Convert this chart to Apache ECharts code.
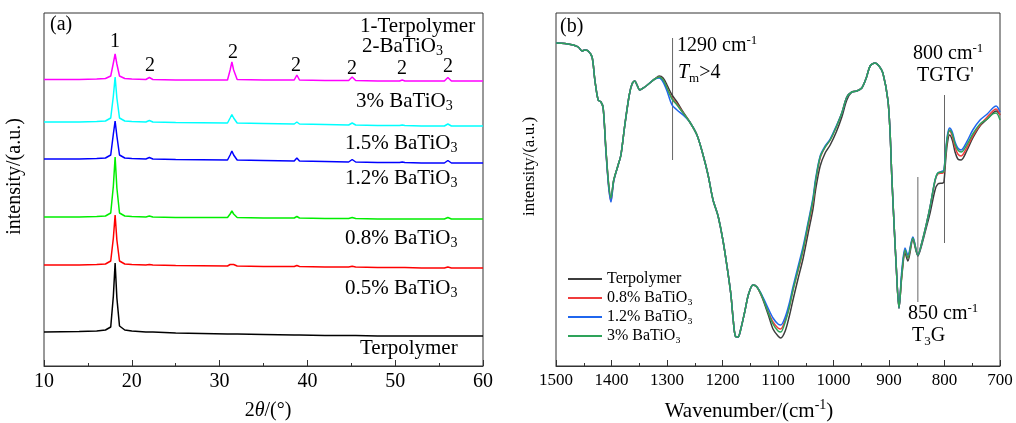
<!DOCTYPE html>
<html><head><meta charset="utf-8">
<script src="https://cdn.jsdelivr.net/npm/echarts@6/dist/echarts.min.js"></script>
<style>html,body{margin:0;padding:0;background:#fff}#c{width:1016px;height:423px}</style>
</head><body><div id="c"></div>
<script>
// ---------- Panel (a): XRD ----------
const xrdTheta = [10,14,16,17,17.6,17.9,18.1,18.3,18.6,19.2,20,21.6,22,22.4,25,30.9,31.2,31.4,31.6,32,35,38.5,38.8,39.1,42,44.7,45.1,45.5,48,50.5,50.8,51.1,53,55.6,56,56.4,60];
const xrd3 = [286.5,286.5,287,287.5,290,303,312,302,290,287.5, 287,286.5,288.5,286.5,286, 286,296,304,296,286.5, 286,286,291,286, 285.5,285.5,289,285.5, 285,285,286,285, 285,285,288.5,285,285];
const xrd15 = [244,244,244.5,245,248,270,289,268,248,245, 244.5,244,245.5,244,243.5, 243,248,251.5,248,243, 242.5,242,244,242, 241.5,241,243,241, 240.5,240.5,241,240.5, 240,240,242,240,240];
const xrd12 = [207,207,207.5,208,211,232,245,230,211,208, 207.5,207,208.5,207,206.5, 206,211,215,211,206, 205.5,205,208,205, 204.5,204,206.5,204, 203.5,203.5,204,203.5, 203,203,205.5,203,203];
const xrd08 = [149,149,149.5,150,153,180,209,178,153,150, 149.5,149,150,149,148.5, 148.5,152,155,152,148.5, 148,148,149.5,148, 147.5,147.5,148.5,147.5, 147,147,147,147, 147,147,148.5,147,147];
const xrd05 = [101,101,101.5,102,105,128,151,126,105,102, 101.5,101,101.5,101,100.5, 100,101.5,103,101.5,100, 99.5,99.5,100.5,99.5, 99,99,99.8,99, 98.5,98.5,98.5,98.5, 98,98,99,98,98];
const xrdTer = [34,34.5,35,36,39,70,103,68,40,36, 35,34,34,34,33, 32,32,32,32,32, 31.5,31,31,31, 30.5,30.5,30.5,30.5, 30,30,30,30, 30,30,30,30,30];

// ---------- Panel (b): FTIR ----------
const ftirWn = [1500,1484,1469,1460,1453,1448,1442,1435,1430,1424,
1419,1415,1410,1405,1401,1396,1388,1383,1376,1368,
1363,1358,1354,1349,1340,1331,1322,1314,1307,1300,
1291,1282,1271,1259,1246,1235,1226,1217,1208,1199,
1192,1185,1181,1177,1172,1167,1160,1153,1145,1138,
1129,1118,1109,1100,1095,1087,1080,1073,1064,1055,
1046,1037,1032,1024,1015,1006,995,985,976,967,
958,949,941,934,925,918,911,902,898,895,
891,887,882,877,871,866,857,848,841,833,
826,817,812,803,801,798,795,791,786,781,
776,770,760,749,736,723,713,707,700];
const ftirTer = [323,322.5,321,319,315,316,315,309,286,266,
264,258,216,181,168,186,201,211,241,271,
282,285,281,276,279,283,287,290,288,281,
271,264,254,244,231,211,191,166,150,125,
100,72,48,30,29,37,54,72,81,79,
69,52,37,30,28,35,49,66,87,107,
132,157,177,200,213,221,234,249,266,274,
275,278,288,300,303,300,293,266,233,190,
143,100,58,89,113,105,126,110,121,138,
153,176,182,183,184,205,222,231,226,214,
207,206,215,228,240,247,253,255,251];
const ftir08 = [323,322.5,321,319,315,316,315,309,286,266,
264,258,215,179,165,185,201,211,241,271,
282,285,281,276,279,283,287,289,286,278,
268,262,253,244,231,211,191,166,150,125,
100,72,48,30,29,37,54,72,81,79,
70,55,44,38,37,46,58,76,95,115,
139,164,185,208,219,226,239,253,269,274,
275,278,288,300,303,300,293,266,233,190,
143,100,58,91,116,108,128,111,123,141,
159,185,192,193,194,211,227,235,230,219,
212,210,218,230,241,249,255,257,251];
const ftir12 = [323,322.5,321,319,315,316,315,309,286,266,
264,258,214,178,164,185,201,211,241,271,
282,285,281,276,279,283,287,288,284,275,
261,256,251,244,231,211,191,166,150,125,
100,72,48,30,29,37,54,72,81,79,
71,58,48,42,41,49,62,79,99,119,
143,168,188,210,220,227,240,253,269,274,
275,278,288,300,303,300,293,266,233,190,
143,100,58,95,118,111,129,111,123,141,
159,186,193,195,196,214,230,238,234,224,
218,216,224,236,246,252,258,260,254];
const ftir3 = [323,322.5,321,319,315,316,315,309,286,266,
264,258,216,181,168,186,201,211,241,271,
282,285,281,276,279,283,287,289,286,278,
267,261,253,244,231,211,191,166,150,125,
100,72,48,30,29,37,54,72,81,79,
70,54,42,35,34,44,58,76,96,116,
141,166,186,209,219,226,239,253,269,274,
275,278,288,300,303,300,293,266,233,190,
143,100,58,91,116,108,128,111,123,141,
159,186,193,194,195,212,228,236,232,222,
216,214,221,232,242,247,252,253,246];
const ftirNames = ['Terpolymer','0.8% BaTiO\u2083','1.2% BaTiO\u2083','3% BaTiO\u2083'];
const markerWn = [1290, 848, 800];
const markerTop = [328, 189, 271];
const markerBottom = [206, 64, 123];

const FAM = 'Liberation Serif';
const zip = (xs, ys) => xs.map((x, i) => [x, ys[i]]);

const chart = echarts.init(document.getElementById('c'), null, {renderer: 'canvas'});

function xrdSeries(name, ys, color) {
  return {type: 'line', name, xAxisIndex: 0, yAxisIndex: 0, data: zip(xrdTheta, ys),
    showSymbol: false, symbol: 'none', lineStyle: {width: 1.5, color}, itemStyle: {color}, silent: true};
}
function ftirSeries(name, ys, color) {
  return {type: 'line', name, xAxisIndex: 1, yAxisIndex: 1, data: zip(ftirWn, ys),
    showSymbol: false, symbol: 'none', smooth: 0.3, lineStyle: {width: 1.5, color}, itemStyle: {color}, silent: true};
}
const markerSeries = markerWn.map((w, i) => ({type: 'line', name: 'm' + i, xAxisIndex: 1, yAxisIndex: 1,
  data: [[w, markerTop[i]], [w, markerBottom[i]]], showSymbol: false, symbol: 'none',
  lineStyle: {width: 1, color: '#666'}, silent: true, z: 1}));

const axisCommon = {
  axisLine: {show: true, lineStyle: {color: '#333', width: 1}},
  axisTick: {show: true, inside: true, length: 6, lineStyle: {color: '#333', width: 1}},
  minorTick: {show: true, splitNumber: 2, length: 3, lineStyle: {color: '#333', width: 1}},
  splitLine: {show: false}
};
const subRich = (size, sub) => ({
  n: {fontSize: size, fontFamily: FAM, color: '#000', lineHeight: size + 4},
  s: {fontSize: sub, fontFamily: FAM, color: '#000', verticalAlign: 'bottom'},
  sup: {fontSize: sub, fontFamily: FAM, color: '#000', verticalAlign: 'top'},
  i: {fontSize: size, fontFamily: FAM, color: '#000', fontStyle: 'italic', lineHeight: size + 4}
});

function txt(x, y, text, size, align, rot) {
  return {type: 'text', x, y, rotation: rot || 0, silent: true, style: {
    text, fill: '#000', font: size + 'px "Liberation Serif"',
    align: align || 'left', verticalAlign: 'middle', textAlign: align || 'left', textVerticalAlign: 'middle',
    rich: subRich(size, Math.round(size * 0.65))
  }};
}
const bat = (pre) => '{n|' + pre + 'BaTiO}{s|3}';

const option = {
  animation: false,
  backgroundColor: '#fff',
  textStyle: {fontFamily: FAM, color: '#000'},
  grid: [
    {left: 44, top: 13, width: 439, height: 353, show: true, borderColor: '#333', borderWidth: 1, backgroundColor: 'transparent'},
    {left: 556, top: 13, width: 444, height: 353, show: true, borderColor: '#333', borderWidth: 1, backgroundColor: 'transparent'}
  ],
  xAxis: [
    Object.assign({gridIndex: 0, type: 'value', min: 10, max: 60, interval: 10,
      axisLabel: {color: '#000', fontSize: 20, fontFamily: FAM, margin: 6, formatter: (v) => String(v)}
    }, axisCommon),
    Object.assign({gridIndex: 1, type: 'value', min: 700, max: 1500, interval: 100, inverse: true,
      axisLabel: {color: '#000', fontSize: 17, fontFamily: FAM, margin: 6, formatter: (v) => String(v)}
    }, axisCommon)
  ],
  yAxis: [
    {gridIndex: 0, type: 'value', min: 0, max: 353, axisLine: {show: false}, axisTick: {show: false},
      axisLabel: {show: false}, splitLine: {show: false},
      name: 'intensity/(a.u.)', nameLocation: 'middle', nameGap: 19,
      nameTextStyle: {color: '#000', fontSize: 20, fontFamily: FAM, padding: [0, 0, 0, 26]}},
    {gridIndex: 1, type: 'value', min: 0, max: 353, axisLine: {show: false}, axisTick: {show: false},
      axisLabel: {show: false}, splitLine: {show: false},
      name: 'intensity/(a.u.)', nameLocation: 'middle', nameGap: 18,
      nameTextStyle: {color: '#000', fontSize: 17, fontFamily: FAM, padding: [0, 0, 0, 46]}}
  ],
  legend: {
    data: ftirNames, orient: 'vertical', left: 563, top: 266, itemWidth: 34, itemHeight: 2, itemGap: 3,
    icon: 'rect', selectedMode: false,
    textStyle: {color: '#000', fontSize: 16, fontFamily: FAM}
  },
  graphic: [
    txt(268, 411, '{n|2}{i|θ}{n|/(°)}', 20, 'center'),
    txt(749, 411, '{n|Wavenumber/(cm}{sup|-1}{n|)}', 21, 'center'),
    txt(50, 25, '(a)', 20),
    txt(360, 26, '{n|1-Terpolymer}', 21),
    txt(362, 46, '{n|2-BaTiO}{s|3}', 21),
    txt(115, 42, '{n|1}', 20, 'center'),
    txt(150, 66, '{n|2}', 20, 'center'),
    txt(233, 53, '{n|2}', 20, 'center'),
    txt(296, 66, '{n|2}', 20, 'center'),
    txt(352, 69, '{n|2}', 20, 'center'),
    txt(402, 69, '{n|2}', 20, 'center'),
    txt(448, 67, '{n|2}', 20, 'center'),
    txt(356, 101, bat('3% '), 21),
    txt(345, 143, bat('1.5% '), 21),
    txt(345, 178, bat('1.2% '), 21),
    txt(345, 238, bat('0.8% '), 21),
    txt(345, 288, bat('0.5% '), 21),
    txt(360, 348, '{n|Terpolymer}', 21),
    txt(560, 27, '(b)', 20),
    txt(677, 46, '{n|1290 cm}{sup|-1}', 20),
    txt(678, 73, '{i|T}{s|m}{n|>4}', 20),
    txt(913, 54, '{n|800 cm}{sup|-1}', 20),
    txt(917, 76, "{n|TGTG'}", 20),
    txt(908, 314, '{n|850 cm}{sup|-1}', 20),
    txt(912, 336, '{n|T}{s|3}{n|G}', 20)
  ],
  series: [
    xrdSeries('Terpolymer (XRD)', xrdTer, '#000000'),
    xrdSeries('0.5% BaTiO3 (XRD)', xrd05, '#ff0000'),
    xrdSeries('0.8% BaTiO3 (XRD)', xrd08, '#00ee00'),
    xrdSeries('1.2% BaTiO3 (XRD)', xrd12, '#0000ff'),
    xrdSeries('1.5% BaTiO3 (XRD)', xrd15, '#00ffff'),
    xrdSeries('3% BaTiO3 (XRD)', xrd3, '#ff00ff'),
    ...markerSeries,
    ftirSeries(ftirNames[0], ftirTer, '#3c3c3c'),
    ftirSeries(ftirNames[1], ftir08, '#f03c3c'),
    ftirSeries(ftirNames[2], ftir12, '#1f66ee'),
    ftirSeries(ftirNames[3], ftir3, '#2ea35a')
  ]
};
chart.setOption(option);
</script></body></html>
